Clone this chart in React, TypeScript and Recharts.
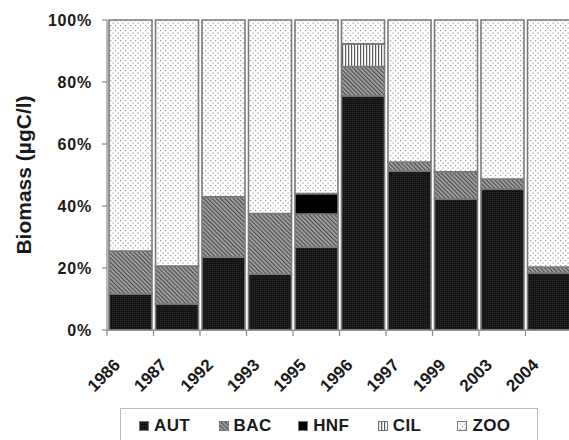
import React from 'react';
import { BarChart, Bar, XAxis, YAxis, Legend, Label } from 'recharts';

const years = ['1986', '1987', '1992', '1993', '1995', '1996', '1997', '1999', '2003', '2004'];
const aut = [11.6, 8.4, 23.5, 18.0, 26.7, 75.5, 51.3, 42.3, 45.5, 18.4];
const bac = [13.9, 12.2, 19.5, 19.6, 10.7, 9.5, 2.9, 8.7, 3.2, 1.9];
const hnf = [0, 0, 0, 0, 6.6, 0, 0, 0, 0, 0];
const cil = [0, 0, 0, 0, 0, 7.3, 0, 0, 0, 0];
const zoo = [74.5, 79.4, 57.0, 62.4, 56.0, 7.7, 45.8, 49.0, 51.3, 79.7];
const yTicks = [0, 0.2, 0.4, 0.6, 0.8, 1];

const seriesKeys = ['AUT', 'BAC', 'HNF', 'CIL', 'ZOO'];

const data = years.map((year, i) => ({
  year,
  AUT: aut[i],
  BAC: bac[i],
  HNF: hnf[i],
  CIL: cil[i],
  ZOO: zoo[i],
}));

const FONT = "Arial, 'Liberation Sans', sans-serif";
const fills: Record<string, string> = {
  AUT: 'url(#autFill)',
  BAC: 'url(#bacHatch)',
  HNF: '#000',
  CIL: 'url(#cilStripes)',
  ZOO: 'url(#zooDots)',
};

// x ticks: rotated year + a tick mark on the left category boundary
const YearTick = (props: any) => {
  const { x, y, payload } = props;
  const half = payload?.offset ?? 23.25;
  const tx = x - 9;
  const ty = y + 28;
  return (
    <g>
      <line x1={x - half} y1={y - 8} x2={x - half} y2={y - 2} stroke="#888" strokeWidth={1.2} />
      <text
        x={tx}
        y={ty}
        transform={`rotate(-45, ${tx}, ${ty})`}
        textAnchor="end"
        fontFamily={FONT}
        fontWeight="bold"
        fontSize={17}
        fill="#1a1a1a"
      >
        {payload.value}
      </text>
    </g>
  );
};

const LegendBox = () => (
  <div
    style={{
      boxSizing: 'border-box',
      width: 418,
      height: 40,
      border: '1px solid #bbb',
      display: 'flex',
      paddingLeft: 18,
      paddingTop: 3,
      fontFamily: FONT,
      fontWeight: 'bold',
      fontSize: 17,
      color: '#1a1a1a',
    }}
  >
    {seriesKeys.map((k) => (
      <div key={k} style={{ width: 85, height: 28, display: 'flex', alignItems: 'center', letterSpacing: 0.4 }}>
        <svg width={10} height={10} style={{ marginRight: 5 }}>
          <rect x={0.5} y={0.5} width={9} height={9} fill={fills[k]} stroke="#777" strokeWidth={1} />
        </svg>
        {k}
      </div>
    ))}
  </div>
);

export default function App() {
  return (
    <div style={{ position: 'absolute', left: 0, top: 0, width: 569, height: 440, overflow: 'hidden', background: '#fff' }}>
      <BarChart
        width={572}
        height={440}
        data={data}
        stackOffset="expand"
        barCategoryGap={2}
        margin={{ top: 20, right: 0, bottom: 0, left: 0 }}
      >
        <defs>
          <pattern id="zooDots" width={5} height={5} patternUnits="userSpaceOnUse">
            <rect width={5} height={5} fill="#fff" />
            <rect x={0} y={0} width={1.2} height={1.2} fill="#9a9a9a" />
            <rect x={2.5} y={2.5} width={1.2} height={1.2} fill="#9a9a9a" />
          </pattern>
          <pattern id="bacHatch" width={3} height={3} patternUnits="userSpaceOnUse" patternTransform="rotate(-45)">
            <rect width={3} height={3} fill="#a5a5a5" />
            <rect x={0} y={0} width={1.2} height={3} fill="#4a4a4a" />
          </pattern>
          <pattern id="autFill" width={2} height={2} patternUnits="userSpaceOnUse">
            <rect width={2} height={2} fill="#141414" />
            <rect x={0} y={0} width={1} height={1} fill="#2a2a2a" />
          </pattern>
          <pattern id="cilStripes" width={3} height={3} patternUnits="userSpaceOnUse">
            <rect width={3} height={3} fill="#fff" />
            <rect x={0} y={0} width={1.2} height={3} fill="#5a5a5a" />
          </pattern>
        </defs>
        <XAxis
          dataKey="year"
          height={70}
          interval={0}
          tickLine={false}
          axisLine={{ stroke: '#888', strokeWidth: 1.2 }}
          tick={<YearTick />}
        />
        <YAxis
          width={107}
          domain={[0, 1]}
          ticks={yTicks}
          interval={0}
          tickFormatter={(v: number) => `${Math.round(v * 100)}%`}
          tickSize={5}
          tickMargin={10}
          axisLine={{ stroke: '#888', strokeWidth: 1.2 }}
          tickLine={{ stroke: '#888', strokeWidth: 1.2 }}
          tick={{ fontFamily: FONT, fontWeight: 'bold', fontSize: 16, fill: '#1a1a1a', letterSpacing: 0.8 }}
        >
          <Label
            content={(p: any) => {
              const vb = p.viewBox || { x: 0, y: 20, width: 107, height: 310 };
              const cx = vb.x + 31;
              const cy = vb.y + vb.height / 2;
              return (
                <text
                  x={cx}
                  y={cy}
                  transform={`rotate(-90, ${cx}, ${cy})`}
                  textAnchor="middle"
                  fontFamily={FONT}
                  fontWeight="bold"
                  fontSize={21}
                  fill="#1a1a1a"
                >
                  Biomass (µgC/l)
                </text>
              );
            }}
          />
        </YAxis>
        <Legend
          verticalAlign="bottom"
          content={<LegendBox />}
          wrapperStyle={{ position: 'absolute', left: 120, top: 408, width: 418, height: 40 }}
        />
        {seriesKeys.map((k) => (
          <Bar
            key={k}
            dataKey={k}
            stackId="a"
            fill={fills[k]}
            stroke="#7a7a7a"
            strokeWidth={1.6}
            isAnimationActive={false}
          />
        ))}
      </BarChart>
    </div>
  );
}
